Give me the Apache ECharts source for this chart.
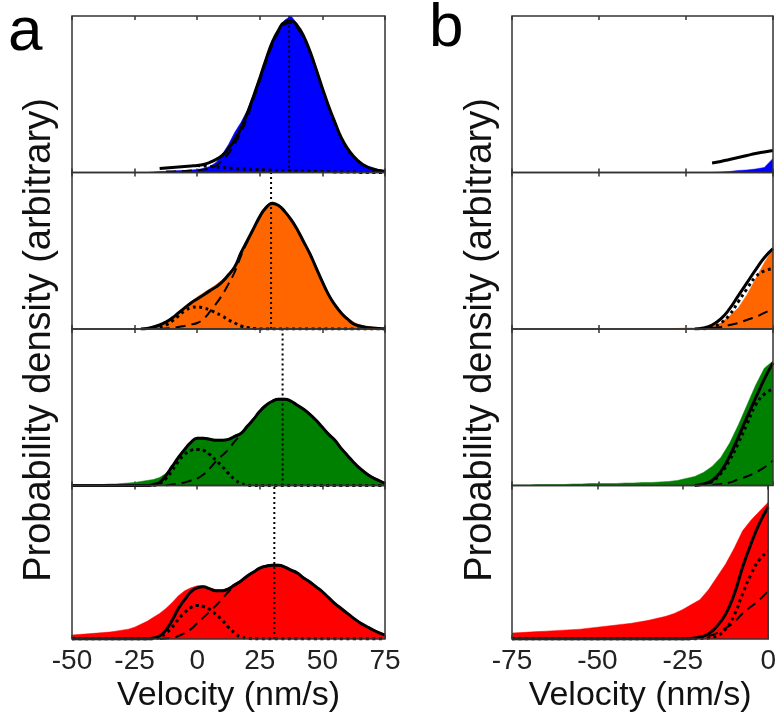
<!DOCTYPE html>
<html>
<head>
<meta charset="utf-8">
<script src="https://cdn.jsdelivr.net/npm/echarts/dist/echarts.min.js"></script>
<style>
html,body{margin:0;padding:0;background:#fff;}
#chart{width:779px;height:714px;}
</style>
</head>
<body>
<div id="chart"></div>
<script>
'use strict';

// velocity sample points (nm/s)
var velA = [-50,-47.5,-45,-42.5,-40,-37.5,-35,-32.5,-30,-27.5,-25,-22.5,-20,-17.5,-15,-12.5,-10,-7.5,-5,-2.5,
	0,2.5,5,7.5,10,12.5,15,17.5,20,22.5,25,27.5,30,32.5,35,37.5,40,42.5,45,47.5,50,52.5,55,57.5,60,62.5,65,67.5,70,72.5,75];
var velB = [-75,-72.5,-70,-67.5,-65,-62.5,-60,-57.5,-55,-52.5,-50,-47.5,-45,-42.5,-40,-37.5,-35,-32.5,-30,-27.5,
	-25,-22.5,-20,-17.5,-15,-12.5,-10,-7.5,-5,-2.5,0];
var ticksA = [-50, 75, 25];
var ticksB = [-75, 0, 25];

//panel a : histograms (full length, from -50)
var histA1 = [0,0,0,0,0,0,0,0,0,0,0,0,0,0.5,1,1,1.5,2,2,2.5,3,4,6,10,18,28,40,50,62,78,96,112,130,143,152,156,148,137,120,102,84,66,50,35,24,16,10,7,5,3,2];
var histA2 = [0,0,0,0,0,0,0,0,0,0,0,0.5,1,2,3,6,10,15,21,27,32,36,40,44,49,55,63,77,90,102,114,123,127,124,118,110,100,88,76,62,48,35,25,17,11,7,4,3,2,1,0.5];
var histA3 = [0.5,0.5,0.5,1,1,1,1.5,1.5,2,2.5,3,4,5,6,8,12,20,29,37,44,48,48,47,46,46,47,50,53,60,67,75,81,85,87,87,85,81,77,72,66,59,52,46,38,31,24,18,13,9,6,3];
var histA4 = [4,4.5,5,5.5,6,6.5,7,8,9,10,12,15,18,22,26,31,37,44,49,52,54,54,52,50,50,52,56,60,65,69,73,75,76,76,74,71,68,63,59,54,49,43,37,32,27,22,17,13,10,7,5];

//panel a : fits (values end at 75, start where the curve starts)
var fitA1 = [4,4.5,5,5.5,6,6.5,7,8,10,13,17,24,33,44,59,76,94,113,130,142,150,151,146,136,121,103,84,66,50,35,24,16,10,6,3.5,2,1];
var dashA1 = [1,1,1.5,1.5,2,2,3,4,7,12,19,29,40,55,73,91,110,127,140,148,149,144,134,120,102,83,65,49,34,23,15,10,6,3.5,2,1];
var dotA1 = [7,6.5,6,5.5,5,4.5,4,3.5,3.5,3,3,2.5,2.5,2,2,2,1.5,1.5,1,1,1,1,0.5,0.5,0.5,0.5,0,0,0,0,0];

var fitA2 = [0,0.5,2,4,7,11,16,21,26,30,34,38,42,47,54,62,76,88,100,112,121,125,123,117,109,99,87,75,61,47,34,24,16,10,5,3,1.5,1,0.5,0];
var dashA2 = [0,0.5,1,2,3,4.5,6,10,17,25,34,45,57,73,87,100,112,121,125,123,117,109,99,87,75,61,47,34,24,16,10,5,3,1.5,1,0.5,0];
var dotA2 = [2,4,8,13,18,21,22,21,19,16,13,9,6,3,1.5,0.5,0,0,0,0,0,0,0,0,0,0,0,0,0,0,0,0,0,0,0,0,0];

var fitA3 = [0,0,0,0,0,0,0,0,0,0,0,0,0,1,3,10,19,28,36,43,47,47,46,45,45,46,49,52,59,66,74,80,84,86,86,84,80,76,71,65,58,51,45,37,30,23,17,12,8,5,2];
var dashA3 = [0,1,2,3,5,7,11,17,24,30,36,44,51,59,66,74,80,84,86,86,84,80,76,71,65,58,51,45,37,30,23,17,12,8,5,2];
var dotA3 = [0,2,7,15,24,31,35,36,35,31,25,19,12,6,2,0.5,0,0,0,0,0,0,0,0,0,0,0,0,0,0,0,0,0,0,0,0,0,0];

var fitA4 = [0,0,0,0,0,0,0,0,0,0,0,0,0,1,3,9,19,31,40,48,52,53,51,49,49,51,55,59,64,68,72,74,75,75,73,70,67,62,58,53,48,42,36,31,26,21,16.5,13,9.5,6.5,4];
var dashA4 = [0,0.5,1,3,6,10,16,22,28,34,41,48,54,59,64,68,72,74,75,75,73,70,67,62,58,53,48,42,36,31,26,21,16.5,13,9.5,6.5,4];
var dotA4 = [0,0,0,0,0,0,0,0,0,0,0,0,0,0,2,6,12,20,27,32,34,33,30,25,19,12,6,2,1,0,0,0,0,0,0,0,0,0,0,0,0,0,0,0,0,0,0,0,0,0,0];

//dotted vertical line: fitted peak velocity
var peakA = [36.7, 29.5, 34.1, 30.8];

//panel b : histograms (full length, from -75)
var histB1 = [0,0,0,0,0,0,0,0,0,0,0,0,0,0,0,0,0,0,0,0,0,0,0,0,0.5,1,2,2.5,3.5,5,14];
var histB2 = [0,0,0,0,0,0,0,0,0,0,0,0,0,0,0,0,0,0,0,0.5,1,1,1.5,3,6,13,21,34,50,66,80];
var histB3 = [0.5,0.5,0.5,1,1,1,1,1.5,1.5,2,2,2,2,2.5,2.5,3,3,3.5,4,5,7,9,13,19,28,42,60,80,100,117,124];
var histB4 = [6,6.5,7,7.5,8,8.5,9,9.5,10,11,12,13,14,15,16,17.5,19,21,23,26,30,35,40,50,63,76,92,110,121,130,139];

//panel b : fits (values end at 0)
var fitB1 = [9.5,11,13,15,17,19,20.5,22];
var dashB1 = [];
var dotB1 = [];
var fitB2 = [0,1,4,10,20,33,46,59,71,80];
var dashB2 = [1,2,4,6,9,12,16,20];
var dotB2 = [0,2,6,14,27,40,52,58,60];
var fitB3 = [0,1.5,5,14,29,48,68,87,106,122];
var dashB3 = [0.5,1.5,3,6,9,13,18,25];
var dotB3 = [1,4,12,25,42,61,80,91,96];
var fitB4 = [0,0,0,0,0,0,0,0,0,0,0,0,0,0,0,0,0,0,0,0,0,0.5,2,5,13,25,45,73,97,118,134];
var dashB4 = [3,6,11,17,26,33,40,49];
var dotB4 = [0,0,0,0,0,0,0,0,0,0,0,0,0,0,0,0,0,0,0,0,0,0,0.5,1,3,10,24,46,66,81,89];

var colors = ['#0000ff', '#ff6600', '#008000', '#ff0000'];

var rowTops = [16, 172.5, 329, 485.5];
var rowH = 156.5;
var yMax = 156;
var fontName = '"Liberation Sans", Arial, sans-serif';

//数据对齐到速度点（末端对齐）
var track = function(vs, ys){
	var off = vs.length - ys.length;
	return ys.map(function(y, i){
		return [vs[off + i], y];
	});
};

var panels = [
	{left: 72, width: 313, vel: velA, ticks: ticksA,
		rows: [
			{hist: histA1, fit: fitA1, dash: dashA1, dot: dotA1, peak: peakA[0]},
			{hist: histA2, fit: fitA2, dash: dashA2, dot: dotA2, peak: peakA[1]},
			{hist: histA3, fit: fitA3, dash: dashA3, dot: dotA3, peak: peakA[2]},
			{hist: histA4, fit: fitA4, dash: dashA4, dot: dotA4, peak: peakA[3]}
		]},
	{left: 512, width: 261, vel: velB, ticks: ticksB,
		rows: [
			{hist: histB1, fit: fitB1, dash: dashB1, dot: dotB1},
			{hist: histB2, fit: fitB2, dash: dashB2, dot: dotB2},
			{hist: histB3, fit: fitB3, dash: dashB3, dot: dotB3},
			{hist: histB4, fit: fitB4, dash: dashB4, dot: dotB4}
		]}
];

var grids = [], xAxes = [], yAxes = [], series = [];

panels.forEach(function(p){
	p.rows.forEach(function(r, ri){
		var g = grids.length;
		grids.push({
			left: p.left, top: rowTops[ri], width: p.width, height: rowH,
			show: true, z: 6, borderColor: '#333', borderWidth: 1.5,
			backgroundColor: 'transparent'
		});
		var isLast = ri == 3;
		var xBase = {
			type: 'value', gridIndex: g,
			min: p.ticks[0], max: p.ticks[1], interval: p.ticks[2],
			axisLine: {show: false},
			axisTick: {show: true, inside: true, length: 4, lineStyle: {color: '#333', width: 1.5}},
			splitLine: {show: false}
		};
		xAxes.push(Object.assign({}, xBase, {
			position: 'bottom',
			axisLabel: {show: isLast, fontSize: 28, fontFamily: fontName, color: '#222', margin: 8},
			name: isLast ? 'Velocity (nm/s)' : '',
			nameLocation: 'middle', nameGap: 40,
			nameTextStyle: {fontSize: 34, fontFamily: fontName, color: '#111'}
		}));
		xAxes.push(Object.assign({}, xBase, {
			position: 'top',
			axisLabel: {show: false}
		}));
		yAxes.push({type: 'value', gridIndex: g, min: 0, max: yMax, show: false});

		var xb = xAxes.length - 2;
		series.push({
			type: 'line', xAxisIndex: xb, yAxisIndex: g,
			data: track(p.vel, r.hist), symbol: 'none',
			lineStyle: {width: 0.5, color: colors[ri]},
			areaStyle: {color: colors[ri], opacity: 1}
		});
		if (r.dash.length) {
			series.push({
				type: 'line', xAxisIndex: xb, yAxisIndex: g,
				data: track(p.vel, r.dash), symbol: 'none', smooth: true,
				lineStyle: {width: 2, color: '#000', type: [10, 6]}
			});
		}
		if (r.dot.length) {
			series.push({
				type: 'line', xAxisIndex: xb, yAxisIndex: g,
				data: track(p.vel, r.dot), symbol: 'none', smooth: true,
				lineStyle: {width: 3, color: '#000', type: [3, 3.5]}
			});
		}
		series.push({
			type: 'line', xAxisIndex: xb, yAxisIndex: g,
			data: track(p.vel, r.fit), symbol: 'none', smooth: true,
			lineStyle: {width: 3, color: '#000'}
		});
		if (r.peak != null) {
			series.push({
				type: 'line', xAxisIndex: xb, yAxisIndex: g,
				data: [[r.peak, 0], [r.peak, yMax]], symbol: 'none',
				lineStyle: {width: 2, color: '#000', type: [2, 3]}
			});
		}
	});
});

var yTitle = 'Probability density (arbitrary)';

var option = {
	animation: false,
	backgroundColor: '#fff',
	grid: grids,
	xAxis: xAxes,
	yAxis: yAxes,
	series: series,
	graphic: [
		{type: 'text', left: 8, top: 2, style: {text: 'a', font: '62px ' + fontName, fill: '#000'}},
		{type: 'text', left: 429, top: -2, style: {text: 'b', font: '62px ' + fontName, fill: '#000'}},
		{type: 'text', x: 40, y: 340, rotation: Math.PI / 2,
			style: {text: yTitle, font: '38px ' + fontName, fill: '#111', align: 'center', verticalAlign: 'middle'}},
		{type: 'text', x: 481, y: 340, rotation: Math.PI / 2,
			style: {text: yTitle, font: '38px ' + fontName, fill: '#111', align: 'center', verticalAlign: 'middle'}}
	]
};

var myChart = echarts.init(document.getElementById('chart'));
myChart.setOption(option);
</script>
</body>
</html>
